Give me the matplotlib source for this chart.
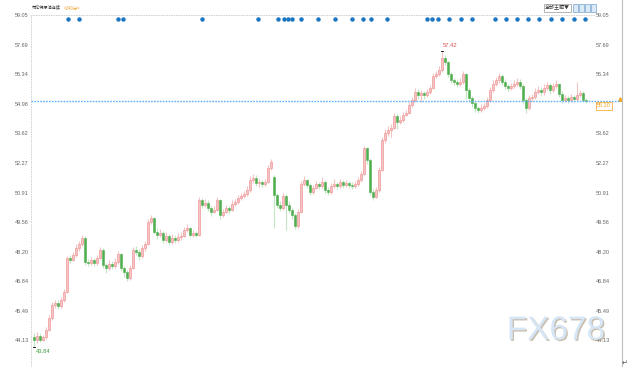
import matplotlib
matplotlib.use("Agg")
import matplotlib.pyplot as plt
import matplotlib.patheffects as pe
from matplotlib.lines import Line2D
from matplotlib.patches import Rectangle
import numpy as np

plt.rcParams['font.family'] = ['Noto Sans CJK SC', 'DejaVu Sans']

# 240-minute bars, Brent continuous
closes = [44.15, 44.34, 44.15, 44.29, 44.61, 45.16, 45.76, 45.85, 45.71, 45.99,
          46.35, 47.91, 47.82, 48.05, 48.37, 48.55, 48.83, 47.73, 47.68, 47.82,
          47.68, 47.91, 48.28, 47.59, 47.45, 47.64, 47.54, 47.73, 48.09, 47.45,
          47.27, 46.99, 47.45, 48.28, 48.19, 48.00, 48.37, 48.55, 49.56, 49.74,
          49.10, 48.97, 49.06, 48.74, 48.92, 48.64, 48.83, 48.74, 48.87, 48.92,
          49.19, 49.29, 48.97, 49.06, 48.97, 50.57, 50.34, 50.43, 50.20, 50.02,
          50.11, 50.57, 49.88, 50.02, 50.20, 50.11, 50.39, 50.48, 50.66, 50.75,
          50.84, 51.03, 51.49, 51.58, 51.35, 51.40, 51.30, 51.40, 52.04, 52.31,
          50.80, 50.34, 50.20, 50.75, 50.34, 50.11, 49.88, 49.38, 50.02, 51.30,
          51.49, 51.26, 50.94, 51.12, 51.30, 51.21, 51.40, 51.03, 50.94, 51.21,
          51.30, 51.21, 51.40, 51.26, 51.35, 51.26, 51.21, 51.30, 51.49, 51.76,
          52.95, 52.40, 50.94, 50.71, 51.03, 51.94, 53.32, 53.64, 53.78, 53.87,
          54.42, 54.15, 54.24, 54.47, 54.56, 54.92, 55.15, 55.52, 55.38, 55.47,
          55.38, 55.52, 55.70, 56.25, 56.35, 56.53, 57.08, 56.90, 56.35, 56.07,
          55.98, 55.89, 55.98, 56.35, 55.61, 55.25, 55.02, 54.79, 54.70, 54.79,
          54.88, 55.15, 55.61, 55.89, 56.07, 56.25, 55.98, 55.80, 55.70, 55.80,
          55.89, 55.98, 55.80, 55.15, 54.79, 55.25, 55.29, 55.52, 55.61, 55.52,
          55.70, 55.84, 55.61, 55.80, 55.89, 55.43, 55.15, 55.25, 55.15, 55.29,
          55.20, 55.38, 55.47, 55.15, 55.10]

opens = [44.29, 44.15, 44.34, 44.15, 44.29, 44.61, 45.16, 45.76, 45.85, 45.71,
         45.99, 46.35, 47.91, 47.82, 48.05, 48.37, 48.55, 48.83, 47.73, 47.68,
         47.82, 47.68, 47.91, 48.28, 47.59, 47.45, 47.64, 47.54, 47.73, 48.09,
         47.45, 47.27, 46.99, 47.45, 48.28, 48.19, 48.00, 48.37, 48.55, 49.56,
         49.74, 49.10, 48.97, 49.06, 48.74, 48.92, 48.64, 48.83, 48.74, 48.87,
         48.92, 49.19, 49.29, 48.97, 49.06, 48.97, 50.57, 50.34, 50.43, 50.20,
         50.02, 50.11, 50.57, 49.88, 50.02, 50.20, 50.11, 50.39, 50.48, 50.66,
         50.75, 50.84, 51.03, 51.49, 51.58, 51.35, 51.40, 51.30, 51.40, 52.04,
         51.60, 50.80, 50.34, 50.20, 50.75, 50.34, 50.11, 49.88, 49.38, 50.02,
         51.30, 51.49, 51.26, 50.94, 51.12, 51.30, 51.21, 51.40, 51.03, 50.94,
         51.21, 51.30, 51.21, 51.40, 51.26, 51.35, 51.26, 51.21, 51.30, 51.49,
         51.76, 52.95, 52.40, 50.94, 50.71, 51.03, 51.94, 53.32, 53.64, 53.78,
         53.87, 54.42, 54.15, 54.24, 54.47, 54.56, 54.92, 55.15, 55.52, 55.38,
         55.47, 55.38, 55.52, 55.70, 56.25, 56.35, 56.53, 57.08, 56.90, 56.35,
         56.07, 55.98, 55.89, 55.98, 56.35, 55.61, 55.25, 55.02, 54.79, 54.70,
         54.79, 54.88, 55.15, 55.61, 55.89, 56.07, 56.25, 55.98, 55.80, 55.70,
         55.80, 55.89, 55.98, 55.80, 55.15, 54.79, 55.25, 55.29, 55.52, 55.61,
         55.52, 55.70, 55.84, 55.61, 55.80, 55.89, 55.43, 55.15, 55.25, 55.15,
         55.29, 55.20, 55.38, 55.47, 55.15]

highs = [44.45, 44.52, 44.48, 44.40, 44.75, 45.30, 45.90, 46.00, 45.98, 46.10,
         46.50, 48.02, 48.05, 48.20, 48.55, 48.70, 48.95, 48.90, 47.85, 47.95,
         47.92, 48.05, 48.42, 48.35, 47.70, 47.80, 47.75, 47.90, 48.25, 48.15,
         47.55, 47.35, 47.60, 48.40, 48.45, 48.30, 48.50, 48.70, 49.70, 49.90,
         49.80, 49.30, 49.25, 49.15, 49.10, 49.00, 49.00, 48.95, 49.05, 49.10,
         49.35, 49.45, 49.35, 49.20, 49.15, 50.70, 50.65, 50.60, 50.55, 50.30,
         50.30, 50.70, 50.60, 50.15, 50.35, 50.30, 50.55, 50.62, 50.80, 50.90,
         51.00, 51.20, 51.65, 51.75, 51.70, 51.55, 51.50, 51.55, 52.15, 52.45,
         51.70, 50.90, 50.50, 50.90, 50.85, 50.50, 50.20, 49.95, 50.15, 51.45,
         51.65, 51.55, 51.35, 51.25, 51.45, 51.40, 51.60, 51.50, 51.15, 51.35,
         51.55, 51.40, 51.55, 51.50, 51.50, 51.45, 51.40, 51.45, 51.60, 51.90,
         53.05, 53.00, 52.50, 51.05, 51.15, 52.10, 53.45, 53.80, 53.95, 54.05,
         54.55, 54.50, 54.40, 54.60, 54.70, 55.05, 55.30, 55.70, 55.65, 55.60,
         55.55, 55.65, 55.85, 56.40, 56.50, 56.70, 57.42, 57.20, 56.95, 56.45,
         56.15, 56.10, 56.15, 56.50, 56.40, 55.70, 55.35, 55.10, 54.90, 54.95,
         55.00, 55.30, 55.75, 56.05, 56.20, 56.40, 56.35, 56.10, 55.90, 55.95,
         56.05, 56.15, 56.10, 55.90, 55.25, 55.40, 55.45, 55.70, 55.80, 55.75,
         55.90, 56.00, 55.95, 55.95, 56.05, 55.95, 55.55, 55.40, 55.35, 55.45,
         55.40, 55.98, 55.60, 55.55, 55.25]

lows = [43.84, 44.02, 44.05, 44.08, 44.20, 44.55, 45.05, 45.62, 45.55, 45.60,
        45.90, 46.30, 47.70, 47.75, 47.95, 48.25, 48.45, 47.60, 47.55, 47.58,
        47.55, 47.60, 47.85, 47.45, 47.20, 47.35, 47.40, 47.45, 47.65, 47.30,
        47.05, 46.85, 46.90, 47.40, 48.05, 47.80, 47.90, 48.25, 48.50, 49.45,
        49.00, 48.80, 48.85, 48.60, 48.65, 48.50, 48.55, 48.60, 48.65, 48.75,
        48.85, 49.10, 48.85, 48.85, 48.85, 48.90, 50.20, 50.25, 50.05, 49.85,
        49.95, 50.05, 49.70, 49.80, 49.95, 49.95, 50.05, 50.30, 50.40, 50.55,
        50.65, 50.75, 50.95, 51.35, 51.20, 51.15, 51.15, 51.20, 51.35, 51.95,
        49.30, 50.20, 50.05, 50.10, 49.20, 49.95, 49.70, 49.25, 49.30, 49.95,
        51.20, 51.10, 50.80, 50.85, 51.05, 51.05, 51.10, 50.90, 50.80, 50.85,
        51.10, 51.05, 51.10, 51.10, 51.15, 51.10, 51.05, 51.10, 51.20, 51.40,
        51.70, 52.20, 50.80, 50.55, 50.65, 50.95, 51.90, 53.20, 53.50, 53.45,
        53.80, 53.80, 54.05, 54.15, 54.40, 54.50, 54.85, 55.05, 55.20, 55.05,
        55.20, 55.30, 55.45, 55.65, 56.15, 56.25, 56.45, 56.75, 56.20, 55.95,
        55.85, 55.75, 55.80, 55.90, 55.20, 55.10, 54.85, 54.60, 54.55, 54.60,
        54.70, 54.80, 55.05, 55.50, 55.80, 55.95, 55.85, 55.65, 55.55, 55.60,
        55.70, 55.80, 55.65, 54.95, 54.55, 54.70, 55.10, 55.20, 55.45, 55.35,
        55.40, 55.60, 55.45, 55.50, 55.70, 55.30, 55.00, 55.05, 55.00, 55.05,
        55.05, 55.10, 55.30, 55.05, 55.00]

# bar index of the calendar-event dots along the top
event_bars = [11.3, 15, 28, 29.7, 56, 74.7, 81.3, 83.3, 84.7, 86, 89, 94.7,
              100.3, 106, 109.7, 112.3, 117.7, 131, 132.7, 134.7, 138.3, 142.3,
              146, 153.7, 157.3, 161, 164.7, 168.3, 172.3, 176, 180, 183.7]

tick_levels = [59.05, 57.69, 56.34, 54.98, 53.62, 52.27, 50.91, 49.56,
               48.20, 46.84, 45.49, 44.13]
last_price = 55.10

W, H = 637, 367
fig = plt.figure(figsize=(W / 100, H / 100), dpi=100)
ax = fig.add_axes([31 / W, 0, (594 - 31) / W, (H - 15) / H])

o = np.array(opens)
c = np.array(closes)
hi = np.array(highs)
lo = np.array(lows)
x = np.arange(len(c))
up = c >= o

up_col, up_wick = '#ef9a9a', '#f5c2c2'
dn_col, dn_wick = '#4fae4f', '#c3e5c3'

ax.vlines(x[up], lo[up], hi[up], color=up_wick, lw=0.8, zorder=2)
ax.vlines(x[~up], lo[~up], hi[~up], color=dn_wick, lw=0.8, zorder=2)
body_lo = np.minimum(o, c)
body_h = np.maximum(np.abs(c - o), 0.03)
ax.bar(x[up], body_h[up], bottom=body_lo[up], width=0.6,
       color='#f6c4c4', edgecolor=up_col, linewidth=0.5, zorder=3)
ax.bar(x[~up], body_h[~up], bottom=body_lo[~up], width=0.5,
       color=dn_col, edgecolor=dn_col, linewidth=0.4, zorder=3)

# event dots
ax.plot(event_bars, [58.87] * len(event_bars), 'o', color='#1a75c2',
        markersize=3.2, markeredgewidth=0, zorder=4)

# last price line
ax.plot([0, (620 - 31) / (594 - 31)], [last_price, last_price],
        transform=ax.get_yaxis_transform(), ls=(0, (1.2, 0.9)), color='#62b0f7',
        lw=1.0, clip_on=False, zorder=5)
ax.text((597 - 31) / (594 - 31), last_price - 0.1, '55.10', transform=ax.get_yaxis_transform(),
        fontsize=4, color='#f39c12', va='top', ha='left', family='Liberation Sans',
        bbox=dict(boxstyle='square,pad=0.25', fc='white', ec='#f5b041', lw=0.6),
        clip_on=False, zorder=6)
ax.plot([(620 - 31) / (594 - 31)], [last_price + 0.1], marker='^', color='#f5a623',
        markersize=2.5, transform=ax.get_yaxis_transform(), clip_on=False)

# high / low marks
imax = int(np.argmax(hi))
imin = int(np.argmin(lo))
ax.plot([imax - 0.4, imax + 0.4], [hi[imax], hi[imax]], color='k', lw=0.6)
ax.text(imax + 0.3, hi[imax] + 0.12, '%.2f' % hi[imax], fontsize=4.2, color='#d9534f',
        family='Liberation Sans', va='bottom')
ax.plot([imin - 0.4, imin + 0.4], [lo[imin], lo[imin]], color='k', lw=0.6)
ax.text(imin + 0.6, lo[imin] - 0.12, '%.2f' % lo[imin], fontsize=4.2, color='#3d9c3d',
        family='Liberation Sans', va='top')

ax.set_xlim(-1, (594 - 34) / 3)
ax.set_ylim(42.91, 59.05)
ax.set_yticks(tick_levels)
ax.set_yticklabels(['%.2f' % v for v in tick_levels], family='Liberation Sans')
ax.tick_params(axis='y', length=0, labelsize=4, labelcolor='#666', pad=1.5,
               labelright=True)
ax.set_xticks([])
for side in ['left', 'top', 'right']:
    ax.spines[side].set_linestyle((0, (1, 2)))
    ax.spines[side].set_color('#cccccc')
    ax.spines[side].set_linewidth(0.6)
ax.spines['bottom'].set_visible(False)
ax.spines['right'].set_visible(False)

# header texts
fig.text(32 / W, 1 - 8 / H, '布伦特原油连续', fontsize=3.0, color='#333', va='center')
fig.text(64 / W, 1 - 8 / H, '<240分>', fontsize=3.2, color='#f0a030', va='center')
fig.text(545 / W, 1 - 8 / H, '全部主题▼', fontsize=3.6, color='#333', va='center',
         bbox=dict(boxstyle='square,pad=0.2', fc='white', ec='#999', lw=0.5))
for px in [573, 579, 585, 591]:
    fig.add_artist(Rectangle((px / W, 1 - 12 / H), 5 / W, 8 / H, fc='#dbe9f7',
                             ec='#5b8fc7', lw=0.4, transform=fig.transFigure))

# right border
fig.add_artist(Line2D([622 / W, 622 / W], [0, 1], color='#bdbdbd', lw=0.8))

# watermark
fig.text(556 / W, 1 - 331 / H, 'FX678', fontsize=24, color='#d6e6f6', ha='center',
         va='center', family='Liberation Sans',
         path_effects=[pe.SimplePatchShadow(offset=(1.0, -1.0), shadow_rgbFace='#a8977e',
                                            alpha=0.6), pe.Normal()])
fig.text(625 / W, 1 - 363 / H, '↵', fontsize=5, color='#555', ha='center', va='center',
         family='DejaVu Sans')

fig.savefig('out.png', dpi=100)
